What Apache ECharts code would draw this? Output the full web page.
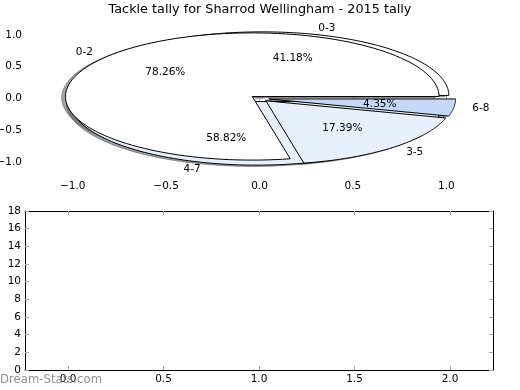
<!DOCTYPE html>
<html><head><meta charset="utf-8">
<script src="https://cdn.jsdelivr.net/npm/echarts@6/dist/echarts.min.js"></script>
<style>html,body{margin:0;padding:0;background:#fff}#c{width:520px;height:390px}</style>
</head><body><div id="c"></div>
<script>
// ---- data ----
const titleText = 'Tackle tally for Sharrod Wellingham - 2015 tally';
const pie1Labels = ['0-3', '4-7'];
const pie1Values = [7, 10];
const pie2Labels = ['0-2', '3-5', '6-8'];
const pie2Values = [18, 4, 1];
const pieXTicks = [-1, -0.5, 0, 0.5, 1];
const pieYTicks = [-1, -0.5, 0, 0.5, 1];
const barXTicks = [0, 0.5, 1, 1.5, 2];
const watermark = 'Dream-Stats.com';

// ---- style ----
const FONT = 'DejaVu Sans';
const pieColors = ['#ffffff', '#e9f0fd', '#c5d8f8'];
const EXPLODE = 0.05, LABEL_DIST = 1.1, PCT_DIST = 0.6, SH = 0.02;
const TICK_COLOR = '#aaaaaa';

function buildWedges(values, labels) {
  const total = values.reduce((a, b) => a + b, 0);
  let cum = 0;
  return values.map((v, i) => {
    const t1 = cum / total * 360; cum += v;
    const t2 = cum / total * 360;
    const mid = (t1 + t2) / 2 * Math.PI / 180;
    return { t1, t2, mid, cx: EXPLODE * Math.cos(mid), cy: EXPLODE * Math.sin(mid),
      label: labels[i], pct: (v / total * 100).toFixed(2) + '%', color: pieColors[i] };
  });
}
const pie1 = buildWedges(pie1Values, pie1Labels);
const pie2 = buildWedges(pie2Values, pie2Labels);
const allWedges = pie1.concat(pie2);

function wedgePoints(api, w, ox, oy) {
  const pts = [api.coord([w.cx + ox, w.cy + oy])];
  const N = 120;
  for (let k = 0; k <= N; k++) {
    const t = (w.t1 + (w.t2 - w.t1) * k / N) * Math.PI / 180;
    pts.push(api.coord([w.cx + Math.cos(t) + ox, w.cy + Math.sin(t) + oy]));
  }
  return pts;
}
function shadowColor(hex) {
  const r = parseInt(hex.substr(1, 2), 16), g = parseInt(hex.substr(3, 2), 16), b = parseInt(hex.substr(5, 2), 16);
  return 'rgba(' + Math.round(r * 0.3) + ',' + Math.round(g * 0.3) + ',' + Math.round(b * 0.3) + ',0.5)';
}
function wedgeSeries(list, z, shadow) {
  return {
    type: 'custom', xAxisIndex: 0, yAxisIndex: 0, z: z, silent: true, clip: false,
    data: list.map(w => [w.cx, w.cy]),
    renderItem: function (params, api) {
      const w = list[params.dataIndex];
      if (shadow) {
        const c = shadowColor(w.color);
        return { type: 'polygon', shape: { points: wedgePoints(api, w, -SH, -SH) },
          style: { fill: c, stroke: c, lineWidth: 1 } };
      }
      return { type: 'polygon', shape: { points: wedgePoints(api, w, 0, 0) },
        style: { fill: w.color, stroke: '#000', lineWidth: 1 } };
    }
  };
}
const textSeries = {
  type: 'custom', xAxisIndex: 0, yAxisIndex: 0, z: 10, silent: true, clip: false,
  data: allWedges.map(w => [w.cx, w.cy]),
  renderItem: function (params, api) {
    const w = allWedges[params.dataIndex];
    const lx = w.cx + LABEL_DIST * Math.cos(w.mid), ly = w.cy + LABEL_DIST * Math.sin(w.mid);
    const px = w.cx + PCT_DIST * Math.cos(w.mid), py = w.cy + PCT_DIST * Math.sin(w.mid);
    const lp = api.coord([lx, ly]), pp = api.coord([px, py]);
    return { type: 'group', children: [
      { type: 'text', x: lp[0], y: lp[1], style: { text: w.label, fill: '#000', fontSize: 10.5, fontFamily: FONT,
        align: lx > 0 ? 'left' : 'right', verticalAlign: 'middle' } },
      { type: 'text', x: pp[0], y: pp[1], style: { text: w.pct, fill: '#000', fontSize: 10.5, fontFamily: FONT,
        align: 'center', verticalAlign: 'middle' } }
    ] };
  }
};

const fmt1 = v => (v < 0 ? '\u2212' : '') + Math.abs(v).toFixed(1);
const tickStyle = { inside: true, length: 4, lineStyle: { color: TICK_COLOR, width: 1 } };
const labelStyle = { color: '#000', fontSize: 10.5, fontFamily: FONT };
function axis(o) {
  return Object.assign({ type: 'value', splitLine: { show: false }, axisPointer: { show: false } }, o);
}

const chart = echarts.init(document.getElementById('c'), null, { renderer: 'canvas' });
chart.setOption({
  animation: false,
  backgroundColor: '#fff',
  title: { text: titleText, left: 'center', top: 3, padding: 0,
    textStyle: { fontSize: 12.8, fontWeight: 'normal', color: '#000', fontFamily: FONT } },
  grid: [
    { left: 26, top: 19, width: 467, height: 159, containLabel: false, outerBoundsMode: 'none' },
    { left: 25, top: 211, width: 468, height: 159, containLabel: false, outerBoundsMode: 'none' }
  ],
  xAxis: [
    axis({ gridIndex: 0, position: 'bottom', min: -1.25, max: 1.25, axisLine: { show: false },
      axisTick: Object.assign({ customValues: pieXTicks }, tickStyle),
      axisLabel: Object.assign({ customValues: pieXTicks, formatter: fmt1, margin: 3 }, labelStyle) }),
    axis({ gridIndex: 0, position: 'top', min: -1.25, max: 1.25, axisLine: { show: false },
      axisTick: Object.assign({ customValues: pieXTicks }, tickStyle), axisLabel: { show: false } }),
    axis({ gridIndex: 1, position: 'bottom', min: -0.225, max: 2.225,
      axisLine: { show: true, onZero: false, lineStyle: { color: '#000', width: 1 } },
      axisTick: Object.assign({ customValues: barXTicks }, tickStyle),
      axisLabel: Object.assign({ customValues: barXTicks, formatter: fmt1, margin: 4 }, labelStyle) }),
    axis({ gridIndex: 1, position: 'top', min: -0.225, max: 2.225,
      axisLine: { show: true, onZero: false, lineStyle: { color: '#000', width: 1 } },
      axisTick: Object.assign({ customValues: barXTicks }, tickStyle), axisLabel: { show: false } })
  ],
  yAxis: [
    axis({ gridIndex: 0, position: 'left', min: -1.25, max: 1.25, axisLine: { show: false },
      axisTick: Object.assign({ customValues: pieYTicks }, tickStyle),
      axisLabel: Object.assign({ customValues: pieYTicks, formatter: fmt1, margin: 4 }, labelStyle) }),
    axis({ gridIndex: 0, position: 'right', min: -1.25, max: 1.25, axisLine: { show: false },
      axisTick: Object.assign({ customValues: pieYTicks }, tickStyle), axisLabel: { show: false } }),
    axis({ gridIndex: 1, position: 'left', min: 0, max: 18, interval: 2,
      axisLine: { show: true, onZero: false, lineStyle: { color: '#000', width: 1 } },
      axisTick: tickStyle, axisLabel: Object.assign({ margin: 4 }, labelStyle) }),
    axis({ gridIndex: 1, position: 'right', min: 0, max: 18, interval: 2,
      axisLine: { show: true, onZero: false, lineStyle: { color: '#000', width: 1 } },
      axisTick: tickStyle, axisLabel: { show: false } })
  ],
  graphic: [
    { type: 'text', left: 0, top: 374, z: 100, style: { text: watermark, fill: 'rgba(125,125,125,0.85)',
      fontSize: 11.7, fontFamily: FONT } }
  ],
  series: [
    wedgeSeries(pie1, 1, true),
    wedgeSeries(pie2, 1, true),
    wedgeSeries(pie1, 2, false),
    wedgeSeries(pie2, 3, false),
    textSeries
  ]
});
</script>
</body></html>
